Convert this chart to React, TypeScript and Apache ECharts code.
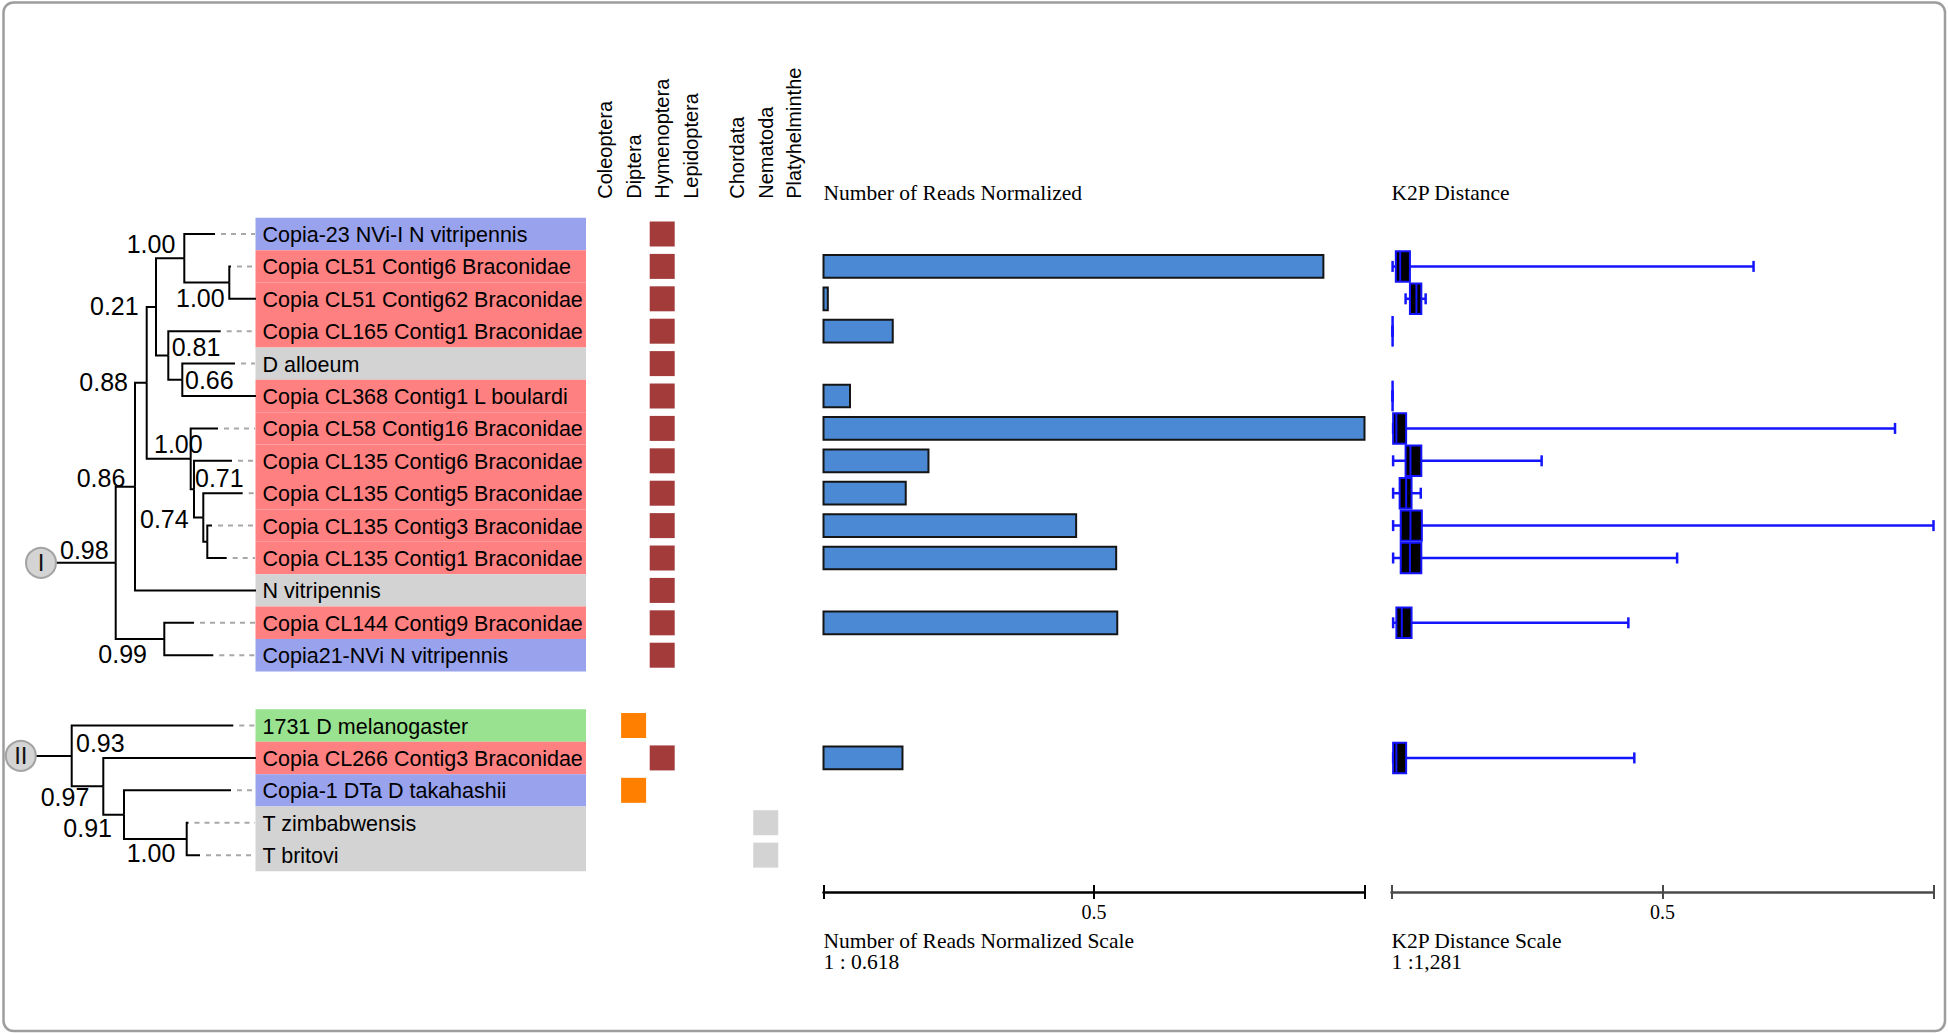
import React, { useEffect, useRef } from 'react';
import * as echarts from 'echarts';

// ---------------- DATA ----------------
const taxaLabels = [
  'Copia-23 NVi-I N vitripennis',
  'Copia CL51 Contig6 Braconidae',
  'Copia CL51 Contig62 Braconidae',
  'Copia CL165 Contig1 Braconidae',
  'D alloeum',
  'Copia CL368 Contig1 L boulardi',
  'Copia CL58 Contig16 Braconidae',
  'Copia CL135 Contig6 Braconidae',
  'Copia CL135 Contig5 Braconidae',
  'Copia CL135 Contig3 Braconidae',
  'Copia CL135 Contig1 Braconidae',
  'N vitripennis',
  'Copia CL144 Contig9 Braconidae',
  'Copia21-NVi N vitripennis',
  '1731 D melanogaster',
  'Copia CL266 Contig3 Braconidae',
  'Copia-1 DTa D takahashii',
  'T zimbabwensis',
  'T britovi',
];
const labelGroup = ['ref', 'brac', 'brac', 'brac', 'host', 'brac', 'brac', 'brac', 'brac', 'brac', 'brac', 'host', 'brac', 'ref', 'dros', 'brac', 'ref', 'host', 'host'];

const taxonColumns = ['Coleoptera', 'Diptera', 'Hymenoptera', 'Lepidoptera', 'Chordata', 'Nematoda', 'Platyhelminthe'];
const hostTaxon = ['Hymenoptera', 'Hymenoptera', 'Hymenoptera', 'Hymenoptera', 'Hymenoptera', 'Hymenoptera', 'Hymenoptera',
  'Hymenoptera', 'Hymenoptera', 'Hymenoptera', 'Hymenoptera', 'Hymenoptera', 'Hymenoptera', 'Hymenoptera',
  'Diptera', 'Hymenoptera', 'Diptera', 'Nematoda', 'Nematoda'];

const readsNormalized = [null, 0.924, 0.008, 0.128, null, 0.049, 1.0, 0.194, 0.152, 0.467, 0.541, null, 0.543, null, null, 0.146, null, null, null];

const k2pMin = [null, 0.002, 0.026, 0.002, null, 0.002, 0.003, 0.003, 0.003, 0.003, 0.003, null, 0.003, null, null, 0.003, null, null, null];
const k2pQ1 = [null, 0.008, 0.034, 0.002, null, 0.002, 0.003, 0.026, 0.015, 0.017, 0.017, null, 0.009, null, null, 0.003, null, null, null];
const k2pMedian = [null, 0.016, 0.046, 0.002, null, 0.002, 0.009, 0.035, 0.027, 0.035, 0.034, null, 0.019, null, null, 0.009, null, null, null];
const k2pQ3 = [null, 0.034, 0.055, 0.002, null, 0.002, 0.027, 0.055, 0.037, 0.056, 0.055, null, 0.037, null, null, 0.027, null, null, null];
const k2pMax = [null, 0.668, 0.063, 0.002, null, 0.002, 0.929, 0.277, 0.054, 1.0, 0.527, null, 0.437, null, null, 0.448, null, null, null];

// tree: leaf branch depths and internal nodes (depth, children, support)
const leafDepth = [215, 231, 256, 220.7, 235, 256, 218, 232, 242.7, 212, 226.7, 256, 194, 213.3, 233.3, 256, 231, 188.5, 200];
const treeNodes = [
  { id: 'A', depth: 184.3, children: ['t0', 'B'], support: 1.0 },
  { id: 'B', depth: 229.3, children: ['t1', 't2'], support: 1.0 },
  { id: 'C', depth: 156, children: ['A', 'D'], support: 0.21 },
  { id: 'D', depth: 168.3, children: ['t3', 'E'], support: 0.81 },
  { id: 'E', depth: 182.3, children: ['t4', 't5'], support: 0.66 },
  { id: 'F', depth: 146.7, children: ['C', 'G'], support: 0.88 },
  { id: 'G', depth: 190.7, children: ['t6', 'H'], support: 1.0 },
  { id: 'H', depth: 194, children: ['t7', 'I'], support: 0.71 },
  { id: 'I', depth: 203.3, children: ['t8', 'J'], support: 0.74 },
  { id: 'J', depth: 207.3, children: ['t9', 't10'], support: null },
  { id: 'K', depth: 135, children: ['F', 't11'], support: 0.86 },
  { id: 'M', depth: 164.3, children: ['t12', 't13'], support: 0.99 },
  { id: 'L', depth: 115.7, children: ['K', 'M'], support: 0.98 },
  { id: 'P', depth: 186.7, children: ['t17', 't18'], support: 1.0 },
  { id: 'O', depth: 124, children: ['t16', 'P'], support: 0.91 },
  { id: 'N', depth: 103.3, children: ['t15', 'O'], support: 0.97 },
  { id: 'Q', depth: 71.7, children: ['t14', 'N'], support: 0.93 },
];
const cladeRoots = [
  { name: 'I', node: 'L', depth: 41 },
  { name: 'II', node: 'Q', depth: 20.8 },
];

// ---------------- LAYOUT ----------------
const leafRows = [0, 1, 2, 3, 4, 5, 6, 7, 8, 9, 10, 11, 12, 13, 15.17, 16.17, 17.17, 18.17, 19.17];
const columnPos = [0, 1, 2, 3, 4.62, 5.62, 6.62];
const supportLabelPos: Record<string, number[]> = {
  A: [126.7, 0.31], B: [176, 1.96], C: [90, 2.22], D: [171.7, 3.5], E: [185, 4.52], F: [79.3, 4.58],
  G: [154, 6.48], H: [195, 7.53], I: [140, 8.8], K: [76.7, 7.52], L: [60, 9.74], M: [98.3, 12.96],
  Q: [76, 15.71], N: [40.7, 17.39], O: [63.3, 18.32], P: [126.7, 19.1],
};
const groupColor: Record<string, string> = { ref: '#99a2ec', brac: '#ff8080', host: '#d3d3d3', dros: '#99e28f' };
const taxonColor: Record<string, string> = { Diptera: '#ff8000', Hymenoptera: '#a33b3b', Nematoda: '#d3d3d3' };

const sansFont = '"Liberation Sans", Arial, Helvetica, sans-serif';
const serifFont = '"Liberation Serif", "Times New Roman", Times, serif';

const Y_MIN = -0.5;
const Y_MAX = 19.7;
const GRID_TOP = 217.8;
const GRID_H = 654.5;

function buildOption() {
  const nodeMap: Record<string, any> = {};
  treeNodes.forEach((n) => (nodeMap[n.id] = n));
  const yOf = (id: string): number => {
    if (id.startsWith('t')) return leafRows[parseInt(id.slice(1), 10)];
    const n = nodeMap[id];
    const ys = n.children.map((c: string) => yOf(c));
    return (Math.min(...ys) + Math.max(...ys)) / 2;
  };
  const depthOf = (id: string): number => (id.startsWith('t') ? leafDepth[parseInt(id.slice(1), 10)] : nodeMap[id].depth);

  const edges: number[][] = [];
  treeNodes.forEach((n) => {
    const py = yOf(n.id);
    n.children.forEach((c) => edges.push([n.depth, py, yOf(c), depthOf(c)]));
  });
  cladeRoots.forEach((r) => {
    const y = yOf(r.node);
    edges.push([r.depth, y, y, nodeMap[r.node].depth]);
  });

  const dashes: number[][] = [];
  leafDepth.forEach((d, i) => {
    if (d < 247) dashes.push([d + 6, leafRows[i], 255]);
  });

  const supportData: number[][] = [];
  treeNodes.forEach((n) => {
    if (n.support != null && supportLabelPos[n.id]) {
      const p = supportLabelPos[n.id];
      supportData.push([p[0], p[1], n.support]);
    }
  });

  const rootData = cladeRoots.map((r) => [r.depth, yOf(r.node), r.name]);

  const bandData = leafRows.map((r) => [0, r]);

  const taxonSeries = Object.keys(taxonColor).map((tx) => ({
    type: 'scatter',
    xAxisIndex: 2,
    yAxisIndex: 2,
    symbol: 'rect',
    symbolSize: 25,
    silent: true,
    itemStyle: { color: taxonColor[tx], opacity: 1 },
    data: hostTaxon
      .map((t, i) => (t === tx ? [columnPos[taxonColumns.indexOf(t)], leafRows[i]] : null))
      .filter((d) => d !== null),
  }));

  const barData: number[][] = [];
  readsNormalized.forEach((v, i) => {
    if (v != null) barData.push([v, leafRows[i]]);
  });

  const boxData: number[][] = [];
  k2pMax.forEach((v, i) => {
    if (v != null) boxData.push([k2pMin[i] as number, k2pQ1[i] as number, k2pMedian[i] as number, k2pQ3[i] as number, v, leafRows[i]]);
  });

  const yAxisBase = { type: 'value', min: Y_MIN, max: Y_MAX, inverse: true, show: false };
  const gridBase = { top: GRID_TOP, height: GRID_H, outerBoundsMode: 'none', containLabel: false };

  const scaleAxis = (grid: number, color: string, labels: boolean, inside: boolean) => ({
    type: 'value',
    gridIndex: grid,
    position: 'bottom',
    offset: 19.7,
    min: 0,
    max: 1,
    interval: 0.5,
    splitLine: { show: false },
    axisLine: { show: labels, onZero: false, lineStyle: { color, width: 2.5 } },
    axisTick: { show: true, inside, length: 7, lineStyle: { color, width: 2 } },
    axisLabel: {
      show: labels,
      margin: 10,
      color: '#000',
      fontFamily: serifFont,
      fontSize: 20,
      formatter: (v: number) => (Math.abs(v - 0.5) < 1e-9 ? '0.5' : ''),
    },
  });

  return {
    animation: false,
    backgroundColor: '#ffffff',
    grid: [
      { ...gridBase, left: 0, width: 256 },
      { ...gridBase, left: 255.5, width: 330.5 },
      { ...gridBase, left: 605 - 0.5 * 28.6, width: 7.62 * 28.6 },
      { ...gridBase, left: 823.5, width: 541 },
      { ...gridBase, left: 1391.5, width: 542 },
    ],
    xAxis: [
      { type: 'value', gridIndex: 0, min: 0, max: 256, show: false },
      { type: 'value', gridIndex: 1, min: 0, max: 1, show: false },
      {
        type: 'value',
        gridIndex: 2,
        position: 'top',
        min: -0.5,
        max: 7.12,
        splitLine: { show: false },
        axisLine: { show: false },
        axisTick: { show: false },
        axisLabel: {
          show: true,
          customValues: columnPos,
          rotate: 90,
          margin: 19,
          color: '#000',
          fontFamily: sansFont,
          fontSize: 20,
          formatter: (v: number) => {
            const idx = columnPos.findIndex((c) => Math.abs(c - v) < 1e-6);
            return idx >= 0 ? taxonColumns[idx] : '';
          },
        },
      },
      scaleAxis(3, '#000', true, false),
      scaleAxis(3, '#000', false, true),
      scaleAxis(4, '#4a4a4a', true, false),
      scaleAxis(4, '#4a4a4a', false, true),
    ],
    yAxis: [0, 1, 2, 3, 4].map((g) => ({ ...yAxisBase, gridIndex: g })),
    graphic: [
      {
        type: 'rect',
        shape: { x: 3.5, y: 2.5, width: 1941.5, height: 1028.5, r: 10 },
        style: { fill: 'none', stroke: '#9d9d9d', lineWidth: 2.5 },
        silent: true,
      },
      { type: 'text', x: 823.5, y: 193, style: { text: 'Number of Reads Normalized', fill: '#000', fontFamily: serifFont, fontSize: 21.5, verticalAlign: 'middle', align: 'left' } },
      { type: 'text', x: 1391.5, y: 193, style: { text: 'K2P Distance', fill: '#000', fontFamily: serifFont, fontSize: 21.5, verticalAlign: 'middle', align: 'left' } },
      { type: 'text', x: 823.5, y: 941, style: { text: 'Number of Reads Normalized Scale', fill: '#000', fontFamily: serifFont, fontSize: 21.5, verticalAlign: 'middle', align: 'left' } },
      { type: 'text', x: 823.5, y: 962, style: { text: '1 : 0.618', fill: '#000', fontFamily: serifFont, fontSize: 21.5, verticalAlign: 'middle', align: 'left' } },
      { type: 'text', x: 1391.5, y: 941, style: { text: 'K2P Distance Scale', fill: '#000', fontFamily: serifFont, fontSize: 21.5, verticalAlign: 'middle', align: 'left' } },
      { type: 'text', x: 1391.5, y: 962, style: { text: '1 :1,281', fill: '#000', fontFamily: serifFont, fontSize: 21.5, verticalAlign: 'middle', align: 'left' } },
    ],
    series: [
      // label bands
      {
        type: 'custom',
        xAxisIndex: 1,
        yAxisIndex: 1,
        silent: true,
        encode: { x: 0, y: 1 },
        data: bandData,
        renderItem: (params: any, api: any) => {
          const row = api.value(1);
          const a = api.coord([0, row - 0.5]);
          const b = api.coord([1, row + 0.5]);
          const i = params.dataIndex;
          return {
            type: 'group',
            children: [
              { type: 'rect', shape: { x: a[0], y: a[1], width: b[0] - a[0], height: b[1] - a[1] }, style: { fill: groupColor[labelGroup[i]] } },
              {
                type: 'text',
                x: a[0] + 7,
                y: (a[1] + b[1]) / 2 + 1,
                style: { text: taxaLabels[i], fill: '#000', fontFamily: sansFont, fontSize: 21.5, align: 'left', verticalAlign: 'middle' },
              },
            ],
          };
        },
      },
      // dashed leaf extensions
      {
        type: 'custom',
        xAxisIndex: 0,
        yAxisIndex: 0,
        silent: true,
        encode: { x: [0, 2], y: 1 },
        data: dashes,
        renderItem: (params: any, api: any) => {
          const a = api.coord([api.value(0), api.value(1)]);
          const b = api.coord([api.value(2), api.value(1)]);
          return {
            type: 'line',
            shape: { x1: a[0], y1: a[1], x2: b[0], y2: b[1] },
            style: { stroke: '#a8a8a8', lineWidth: 2, lineDash: [5, 5] },
          };
        },
      },
      // tree branches
      {
        type: 'custom',
        xAxisIndex: 0,
        yAxisIndex: 0,
        silent: true,
        encode: { x: [0, 3], y: [1, 2] },
        data: edges,
        renderItem: (params: any, api: any) => {
          const px = api.value(0);
          const py = api.value(1);
          const cy = api.value(2);
          const cx = api.value(3);
          return {
            type: 'polyline',
            shape: { points: [api.coord([px, py]), api.coord([px, cy]), api.coord([cx, cy])] },
            style: { stroke: '#000', lineWidth: 2, fill: 'none' },
          };
        },
      },
      // support values
      {
        type: 'custom',
        xAxisIndex: 0,
        yAxisIndex: 0,
        silent: true,
        encode: { x: 0, y: 1 },
        data: supportData,
        renderItem: (params: any, api: any) => {
          const p = api.coord([api.value(0), api.value(1)]);
          return {
            type: 'text',
            x: p[0],
            y: p[1],
            style: { text: Number(api.value(2)).toFixed(2), fill: '#000', fontFamily: sansFont, fontSize: 25, align: 'left', verticalAlign: 'middle' },
          };
        },
      },
      // clade circles
      {
        type: 'scatter',
        xAxisIndex: 0,
        yAxisIndex: 0,
        silent: true,
        z: 5,
        symbol: 'circle',
        symbolSize: 30,
        itemStyle: { color: '#d4d4d4', borderColor: '#a3a3a3', borderWidth: 2, opacity: 1 },
        label: { show: true, position: 'inside', formatter: (p: any) => p.value[2], color: '#111', fontFamily: sansFont, fontSize: 24 },
        data: rootData,
      },
      // taxon squares
      ...taxonSeries,
      // reads bars
      {
        type: 'custom',
        xAxisIndex: 3,
        yAxisIndex: 3,
        silent: true,
        encode: { x: 0, y: 1 },
        data: barData,
        renderItem: (params: any, api: any) => {
          const row = api.value(1);
          const a = api.coord([0, row]);
          const b = api.coord([api.value(0), row]);
          const h = api.size([0, 0.7])[1];
          return {
            type: 'rect',
            shape: { x: a[0], y: a[1] - h / 2, width: Math.max(b[0] - a[0], 3), height: h },
            style: { fill: '#4b89d4', stroke: '#151515', lineWidth: 2 },
          };
        },
      },
      // K2P boxplots
      {
        type: 'custom',
        xAxisIndex: 5,
        yAxisIndex: 4,
        silent: true,
        encode: { x: [0, 1, 2, 3, 4], y: 5 },
        data: boxData,
        renderItem: (params: any, api: any) => {
          const row = api.value(5);
          const c = (v: number) => api.coord([v, row]);
          const pMin = c(api.value(0));
          const pQ1 = c(api.value(1));
          const pMed = c(api.value(2));
          const pQ3 = c(api.value(3));
          const pMax = c(api.value(4));
          const y = pMin[1];
          const boxH = api.size([0, 0.94])[1];
          const capH = 11;
          const blue = '#1414ff';
          return {
            type: 'group',
            children: [
              { type: 'line', shape: { x1: pMin[0], y1: y, x2: pMax[0], y2: y }, style: { stroke: blue, lineWidth: 2.5 } },
              { type: 'line', shape: { x1: pMin[0], y1: y - capH / 2, x2: pMin[0], y2: y + capH / 2 }, style: { stroke: blue, lineWidth: 2.5 } },
              { type: 'line', shape: { x1: pMax[0], y1: y - capH / 2, x2: pMax[0], y2: y + capH / 2 }, style: { stroke: blue, lineWidth: 2.5 } },
              {
                type: 'rect',
                shape: { x: pQ1[0], y: y - boxH / 2, width: pQ3[0] - pQ1[0], height: boxH },
                style: { fill: '#000', stroke: blue, lineWidth: 2 },
              },
              { type: 'line', shape: { x1: pMed[0], y1: y - boxH / 2, x2: pMed[0], y2: y + boxH / 2 }, style: { stroke: blue, lineWidth: 2 } },
            ],
          };
        },
      },
    ],
  };
}

export default function App() {
  const ref = useRef<HTMLDivElement>(null);
  useEffect(() => {
    if (!ref.current) return;
    const chart = echarts.init(ref.current, null, { renderer: 'svg' });
    chart.setOption(buildOption() as any);
    return () => chart.dispose();
  }, []);
  return (
    <div
      ref={ref}
      style={{ position: 'fixed', left: 0, top: 0, width: 1948, height: 1034, background: '#fff' }}
    />
  );
}
